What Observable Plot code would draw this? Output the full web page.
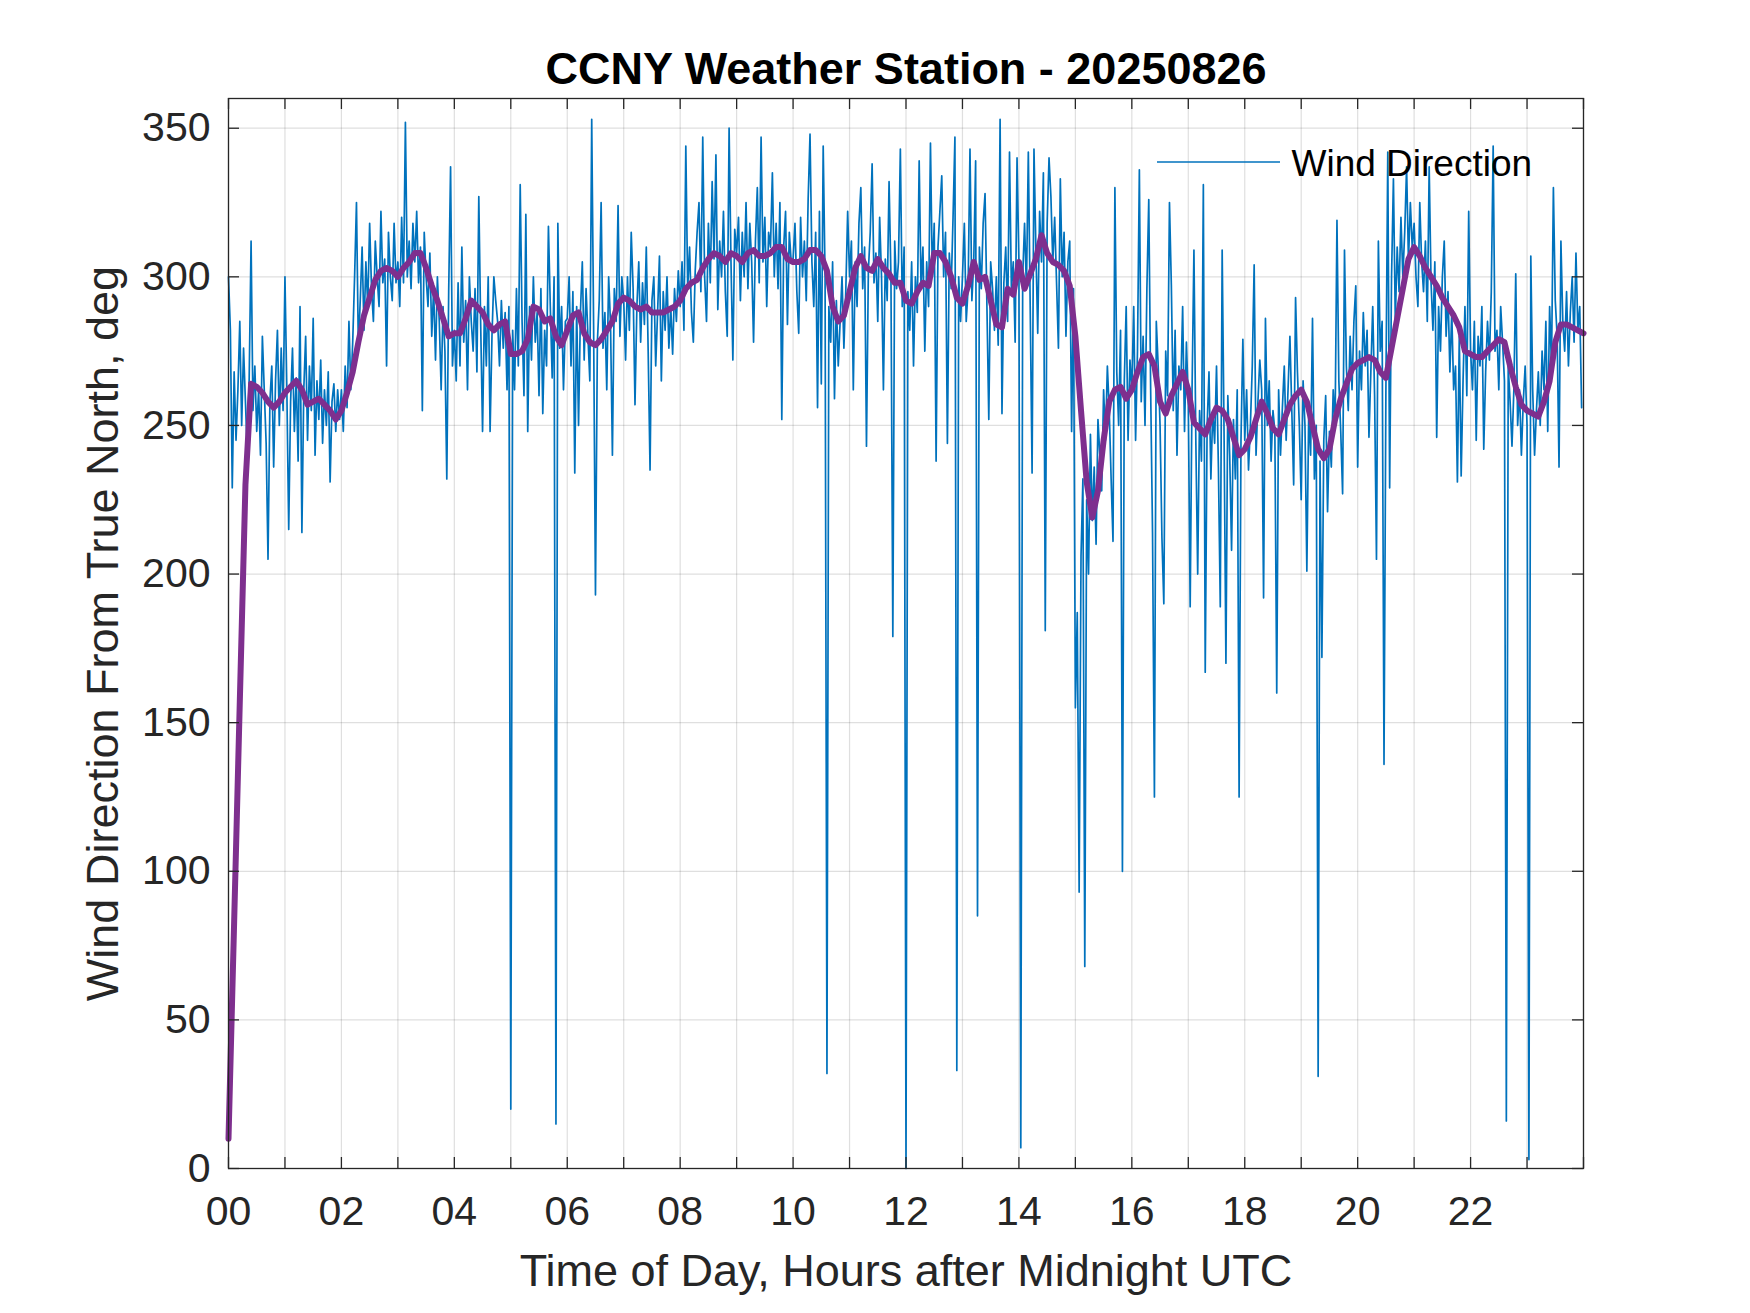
<!DOCTYPE html>
<html><head><meta charset="utf-8">
<script src="https://cdn.jsdelivr.net/npm/d3@7"></script>
<script src="https://cdn.jsdelivr.net/npm/@observablehq/plot@0.6"></script>
<style>html,body{margin:0;padding:0;background:#fff;} svg{display:block}</style>
</head><body><div id="chart"></div>
<script>
// Wind direction (deg from true north), one value every 2 minutes, one array per UTC hour
const h00 = [300,282,229,268,245,262,285,250,276,258,240,266,312,255,270,248,262,240,280,262,244,205,258,270,236,265,282,250,276,255];
const h01 = [300,262,215,258,276,248,266,238,290,214,262,280,245,270,255,286,240,265,252,272,244,262,250,268,231,258,264,248,262,252];
const h02 = [262,248,270,256,285,262,278,300,325,276,292,310,282,305,290,318,296,285,312,300,290,322,298,306,270,315,300,292,318,298];
const h03 = [305,290,320,298,352,300,312,296,318,305,322,298,310,255,315,300,290,308,280,296,272,300,285,262,290,275,232,295,337,270];
const h04 = [282,265,298,270,310,278,292,262,300,285,275,296,268,327,284,248,290,270,300,248,280,300,292,285,270,292,276,288,262,290];
const h05 = [20,282,262,296,270,331,285,260,321,248,290,272,300,278,288,260,296,254,282,270,317,290,266,300,15,318,276,290,262,285];
const h06 = [286,300,270,295,234,290,250,288,305,272,296,280,265,353,284,193,278,292,325,276,288,262,300,284,240,296,285,324,280,300];
const h07 = [292,272,300,282,315,296,257,290,305,278,298,284,310,275,235,292,300,270,288,307,265,295,282,300,276,290,274,296,285,302];
const h08 = [290,305,282,344,296,310,288,278,302,315,325,295,347,300,285,318,298,332,306,341,289,312,300,322,295,280,350,305,272,316];
const h09 = [308,320,292,315,300,325,296,318,305,278,312,330,298,347,305,320,290,315,310,335,300,318,296,325,252,310,322,284,315,305];
const h10 = [306,318,295,281,320,300,312,292,326,348,305,290,315,256,322,264,344,300,32,290,278,305,259,292,270,285,300,276,295,322];
const h11 = [300,312,262,305,290,318,330,296,310,243,302,315,338,298,308,285,320,300,262,306,292,332,300,179,312,296,305,343,290,310];
const h12 = [0,295,282,305,270,300,288,339,296,310,275,305,290,345,300,318,238,310,322,334,300,315,244,308,296,320,347,33,300,285];
const h13 = [300,318,285,296,343,292,305,339,85,310,296,318,328,290,252,305,296,282,300,277,353,254,298,310,285,342,296,305,278,340];
const h14 = [305,7,300,318,296,342,290,234,343,310,281,322,305,335,181,318,340,327,305,320,298,276,333,300,315,280,305,312,248,296];
const h15 = [155,187,93,206,232,68,225,200,247,218,236,210,252,240,228,262,245,270,255,232,211,330,268,250,282,100,265,290,245,272];
const h16 = [262,290,245,275,336,258,280,250,296,326,262,214,125,285,270,250,212,190,275,260,325,297,255,282,240,270,262,290,248,278];
const h17 = [258,189,262,309,245,200,255,238,331,167,250,268,232,255,244,270,236,189,309,248,170,260,240,208,252,232,262,125,245,279];
const h18 = [245,262,235,250,270,304,240,258,272,262,192,286,250,265,238,255,248,160,262,240,256,270,245,262,280,255,230,293,268,250];
const h19 = [225,265,250,201,255,240,286,232,250,31,238,172,245,260,221,248,236,262,250,319,265,248,227,309,270,255,280,262,285,297];
const h20 = [236,275,262,288,270,282,246,268,290,260,205,312,275,285,136,262,342,229,300,333,285,310,295,320,300,315,337,305,325,310];
const h21 = [318,300,290,325,305,295,312,285,337,298,282,305,246,290,275,300,312,280,295,268,288,262,270,231,280,233,265,290,260,322];
const h22 = [275,262,285,245,280,270,290,242,268,285,272,295,344,275,282,262,290,278,265,16,270,258,243,262,301,250,262,240,258,270];
const h23 = [250,3,307,262,240,255,268,250,275,262,285,248,290,270,330,292,280,236,312,285,275,295,270,288,300,278,308,282,290,256];
const hourly = [h00,h01,h02,h03,h04,h05,h06,h07,h08,h09,h10,h11,h12,h13,h14,h15,h16,h17,h18,h19,h20,h21,h22,h23];
const sampleMinutes = 2;

// Smoothed wind direction (purple), one value every 6 minutes (0.1 h)
const smoothStepHours = 0.1;
const smoothDir = [10,83,157,230,264,263,261,258,256,258,
 261,263,265,262,257,258,259,257,255,252,
 255,261,268,278,287,293,299,302,303,302,
 300,303,305,308,308,303,297,292,286,280,
 281,281,286,292,290,288,284,282,284,285,
 274,274,275,279,290,289,285,286,280,277,
 282,287,288,281,278,277,279,282,285,291,
 293,292,290,289,290,288,288,288,289,290,
 292,296,298,299,303,306,308,307,305,308,
 307,305,308,309,307,307,308,310,310,306,
 305,305,306,309,309,307,302,290,285,287,
 295,303,307,303,302,306,303,301,298,298,
 292,291,295,298,297,308,308,305,300,293,
 291,297,305,299,300,292,284,283,296,294,
 305,296,301,306,314,308,305,304,302,297,
 280,255,231,219,228,245,258,262,263,259,
 262,268,273,274,270,258,254,260,264,268,
 262,251,249,247,252,256,255,252,246,240,
 242,246,252,258,254,249,247,252,257,260,
 262,258,250,242,239,242,252,259,264,269,
 271,272,273,272,268,266,276,286,296,306,
 310,307,303,300,297,293,290,287,283,275,
 274,273,273,275,277,279,278,270,263,257,
 255,254,253,258,265,278,284,284,283,282,
 281];

const xTickValues = [0,2,4,6,8,10,12,14,16,18,20,22];
const xTickLabels = ["00","02","04","06","08","10","12","14","16","18","20","22"];
const hourTicks = [0,1,2,3,4,5,6,7,8,9,10,11,12,13,14,15,16,17,18,19,20,21,22,23,24];
const yTickValues = [0,50,100,150,200,250,300,350];

const titleText = "CCNY Weather Station - 20250826";
const xLabelText = "Time of Day, Hours after Midnight UTC";
const yLabelText = "Wind Direction From True North, deg";
const legendText = "Wind Direction";

const windDir = hourly.flatMap((arr, h) => arr.map((v, j) => ({t: h + j * sampleMinutes / 60, v})));
const smooth = smoothDir.map((v, i) => ({t: i * smoothStepHours, v}));

const W = 1750, H = 1313, mL = 228, mR = 167, mT = 98, mB = 145;
const fw = W - mL - mR, fh = H - mT - mB;
const font = "'Liberation Sans', Arial, Helvetica, sans-serif";
const axisColor = "#262626";
const tickLen = 11;

const plot = Plot.plot({
  width: W, height: H,
  marginLeft: mL, marginRight: mR, marginTop: mT, marginBottom: mB,
  style: {fontFamily: font, background: "#fff", overflow: "visible"},
  x: {domain: [0, 24], axis: null},
  y: {domain: [0, 360], axis: null},
  marks: [
    Plot.ruleX(hourTicks, {x: d => d, stroke: axisColor, strokeOpacity: 0.15, strokeWidth: 1.2}),
    Plot.ruleY(yTickValues, {y: d => d, stroke: axisColor, strokeOpacity: 0.15, strokeWidth: 1.2}),
    Plot.line(windDir, {x: "t", y: "v", stroke: "#0072BD", strokeWidth: 1.7}),
    Plot.line(smooth, {x: "t", y: "v", stroke: "#7E2F8E", strokeWidth: 6, strokeLinejoin: "round"}),
    Plot.frame({stroke: axisColor, strokeWidth: 1.3}),
    Plot.tickX(hourTicks, {x: d => d, insetTop: fh - tickLen, stroke: axisColor, strokeWidth: 1.3}),
    Plot.tickX(hourTicks, {x: d => d, insetBottom: fh - tickLen, stroke: axisColor, strokeWidth: 1.3}),
    Plot.tickY(yTickValues, {y: d => d, insetRight: fw - tickLen, stroke: axisColor, strokeWidth: 1.3}),
    Plot.tickY(yTickValues, {y: d => d, insetLeft: fw - tickLen, stroke: axisColor, strokeWidth: 1.3}),
    Plot.text(xTickValues, {x: d => d, text: (d, i) => xTickLabels[i], frameAnchor: "bottom", lineAnchor: "middle", dy: 43, fontSize: 41, fill: axisColor}),
    Plot.text(yTickValues, {y: d => d, text: d => String(d), frameAnchor: "left", lineAnchor: "middle", dx: -18, textAnchor: "end", fontSize: 41, fill: axisColor}),
    Plot.text([titleText], {text: d => d, frameAnchor: "top", lineAnchor: "middle", dy: -29, fontSize: 45, fontWeight: "bold", fill: "#000"}),
    Plot.text([xLabelText], {text: d => d, frameAnchor: "bottom", lineAnchor: "middle", dy: 103, fontSize: 45, fill: axisColor}),
    Plot.text([yLabelText], {text: d => d, frameAnchor: "left", lineAnchor: "middle", textAnchor: "middle", dx: -125, rotate: -90, fontSize: 45, fill: axisColor}),
    Plot.text([legendText], {text: d => d, frameAnchor: "top-right", lineAnchor: "middle", dx: -292, dy: 66, textAnchor: "start", fontSize: 37, fill: "#000"})
  ]
});

// legend line sample
d3.select(plot).append("line")
  .attr("x1", W - mR - 426).attr("x2", W - mR - 303)
  .attr("y1", mT + 64).attr("y2", mT + 64)
  .attr("stroke", "#0072BD").attr("stroke-width", 1.7);

document.getElementById("chart").appendChild(plot);
</script>
</body></html>
